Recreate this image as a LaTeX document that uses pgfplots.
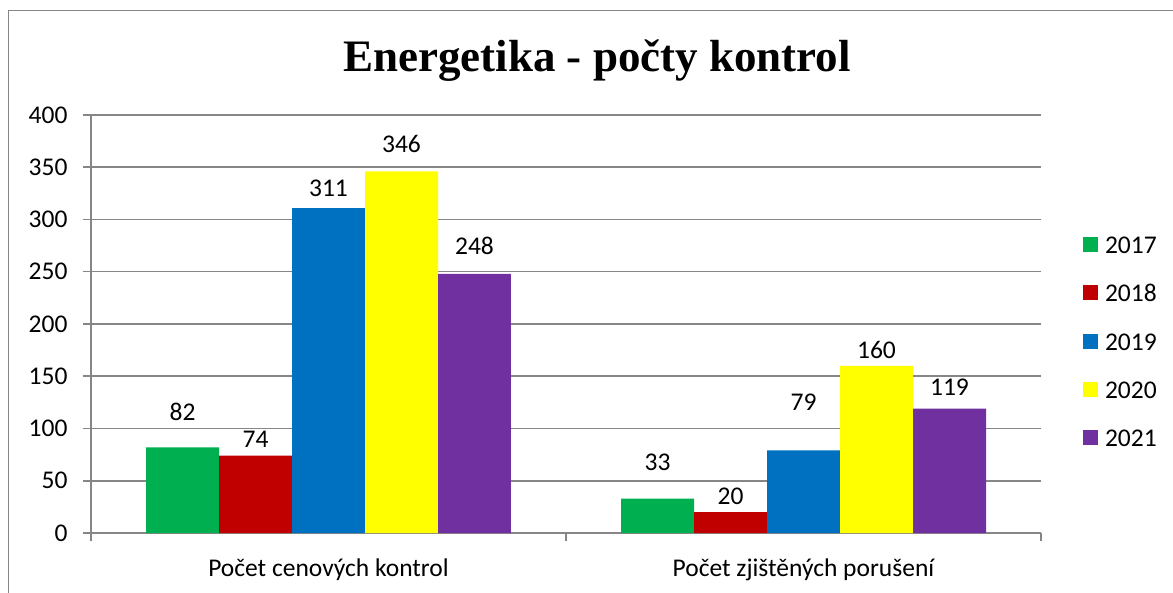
\documentclass[border=0pt]{standalone}
\usepackage{pgfplots}
\pgfplotsset{compat=1.18}
\usepackage{pgfplotstable}
\usepackage{fontspec}
\setmainfont{Carlito}
\newfontfamily\titlefont{Liberation Serif}
\definecolor{c17}{HTML}{00B050}
\definecolor{c18}{HTML}{C00000}
\definecolor{c19}{HTML}{0070C0}
\definecolor{c20}{HTML}{FFFF00}
\definecolor{c21}{HTML}{7030A0}
\definecolor{gridc}{RGB}{134,134,134}
\pgfplotstableread{
x y off
0 82 35
1 33 36
}\tA
\pgfplotstableread{
x y off
0 74 16
1 20 16
}\tB
\pgfplotstableread{
x y off
0 311 20
1 79 48
}\tC
\pgfplotstableread{
x y off
0 346 27
1 160 16
}\tD
\pgfplotstableread{
x y off
0 248 28
1 119 21
}\tE
\newcommand{\lblfont}{\fontsize{25.5}{30}\selectfont}
\begin{document}
\begin{tikzpicture}[x=1pt,y=1pt]
\useasboundingbox (0,0) rectangle (1173,592);
\draw[gridc, line width=1.5pt] (1200,581.5) -- (8.5,581.5) -- (8.5,-20);
\node[font=\titlefont\bfseries\fontsize{45}{50}\selectfont, anchor=base, inner sep=0pt] at (597,520) {Energetika - počty kontrol};
\begin{axis}[
  at={(91pt,59pt)}, anchor=south west,
  scale only axis, width=950pt, height=418pt,
  xmin=-0.5, xmax=1.5, ymin=0, ymax=400,
  ybar=0pt, bar width=0.15368,
  axis lines=left, axis line style={-, gridc, line width=1.5pt},
  ytick={0,50,...,400}, ymajorgrids, grid style={gridc, line width=1.5pt},
  xtick={-0.5,0.5,1.5}, xticklabels={},
  extra x ticks={0,1},
  extra x tick labels={Počet cenových kontrol, Počet zjištěných porušení},
  extra x tick style={major tick length=0pt, grid=none,
    tick label style={yshift=-22pt}},
  tick align=outside, major tick length=8pt,
  tick style={gridc, line width=1.5pt},
  /pgf/number format/assume math mode=true,
  tick label style={font=\lblfont, text=black},
  yticklabel style={xshift=-12pt},
  nodes near coords,
  visualization depends on={\thisrow{off} \as \myoff},
  nodes near coords style={font=\lblfont, anchor=center, yshift=\myoff pt, text=black},
  legend style={at={(1.0442,0.7117)}, anchor=north west, draw=none, fill=none,
    inner sep=0pt, outer sep=0pt, font=\lblfont, row sep=30.3pt, column sep=7pt,
    nodes={inner sep=0pt, text height=18pt, text depth=0pt}},
  legend cell align=left,
  legend image code/.code={\fill[#1] (0pt,-7.5pt) rectangle (15pt,7.5pt);},
]
\addplot[fill=c17, draw=none] table[x=x, y=y] {\tA};
\addplot[fill=c18, draw=none] table[x=x, y=y] {\tB};
\addplot[fill=c19, draw=none] table[x=x, y=y] {\tC};
\addplot[fill=c20, draw=none] table[x=x, y=y] {\tD};
\addplot[fill=c21, draw=none] table[x=x, y=y] {\tE};
\legend{2017,2018,2019,2020,2021}
\end{axis}
\end{tikzpicture}
\end{document}
